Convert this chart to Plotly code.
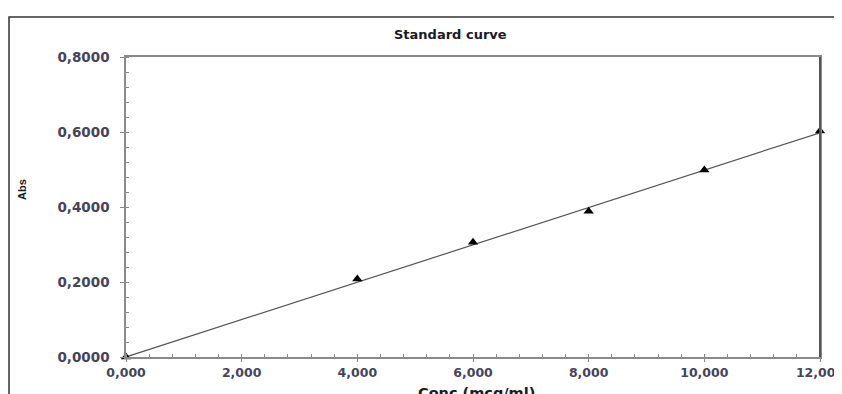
import plotly.graph_objects as go

conc = [0, 4, 6, 8, 10, 12]
absorb = [0.0, 0.208, 0.306, 0.389, 0.499, 0.603]
fit_x = [0, 12]
fit_y = [0.0, 0.598]
x_tickvals = [0, 2, 4, 6, 8, 10, 12]
x_ticktext = ["0,000", "2,000", "4,000", "6,000", "8,000", "10,000", "12,000"]
y_tickvals = [0, 0.2, 0.4, 0.6, 0.8]
y_ticktext = ["0,0000", "0,2000", "0,4000", "0,6000", "0,8000"]

# page offset of the figure (body margin)
OFF = 8
W, H = 842 - OFF, 394 - OFF
L, T = 126 - OFF, 57 - OFF
R = W - (820 - OFF)
B = H - (357 - OFF)
pw, ph = W - L - R, H - T - B

def px(xp):
    return (xp - OFF - L) / pw

def py(yp):
    return (H - B - (yp - OFF)) / ph

FONT = "DejaVu Sans, Verdana, sans-serif"

fig = go.Figure()
fig.add_trace(go.Scatter(x=fit_x, y=fit_y, mode="lines",
                         line=dict(color="#555555", width=1.2),
                         hoverinfo="skip", showlegend=False))
fig.add_trace(go.Scatter(x=conc, y=absorb, mode="markers",
                         marker=dict(symbol="triangle-up", size=9, color="black"),
                         showlegend=False, cliponaxis=False))

fig.update_xaxes(range=[0, 12], tickvals=x_tickvals,
                 ticktext=["<b>%s</b>" % t for t in x_ticktext],
                 ticklabeloverflow="allow",
                 showgrid=False, zeroline=False, showline=True, mirror=True,
                 linecolor="#8a8a8a", linewidth=1.5,
                 ticks="outside", ticklen=3, tickcolor="#8a8a8a",
                 minor=dict(dtick=0.4, ticks="inside", ticklen=3, tickcolor="#8a8a8a", showgrid=False),
                 tickfont=dict(family=FONT, size=12.5, color="#45455a"))
fig.update_yaxes(range=[0, 0.8], tickvals=y_tickvals,
                 ticktext=["<b>%s</b>" % t for t in y_ticktext],
                 showgrid=False, zeroline=False, showline=True, mirror=True,
                 linecolor="#8a8a8a", linewidth=1.5,
                 ticks="outside", ticklen=4, tickcolor="#8a8a8a",
                 ticklabelstandoff=8,
                 minor=dict(dtick=0.04, ticks="inside", ticklen=3, tickcolor="#8a8a8a", showgrid=False),
                 tickfont=dict(family=FONT, size=13.5, color="#45455a"))

shapes = [
    # outer frame
    dict(type="rect", xref="paper", yref="paper",
         x0=px(9), x1=px(842 + 20), y0=py(394 + 20), y1=py(17),
         line=dict(color="#333333", width=1.5), fillcolor="rgba(0,0,0,0)", layer="below"),
    # darker right border of plot area
    dict(type="line", xref="paper", yref="paper", x0=1, x1=1, y0=0, y1=1,
         line=dict(color="#555555", width=2)),
]

annotations = [
    dict(text="<b>Standard curve</b>", xref="paper", yref="paper",
         x=px(450), y=py(34), showarrow=False, xanchor="center", yanchor="middle",
         font=dict(family=FONT, size=13, color="#1a1a2a")),
    dict(text="<b>Abs</b>", xref="paper", yref="paper", textangle=-90,
         x=px(22), y=py(190), showarrow=False, xanchor="center", yanchor="middle",
         font=dict(family="Liberation Sans Narrow, Liberation Sans, Arial, sans-serif", size=11, color="#1a1a2a")),
    dict(text="<b>Conc (mcg/ml)</b>", xref="paper", yref="paper",
         x=px(476), y=py(383), showarrow=False, xanchor="center", yanchor="top",
         font=dict(family=FONT, size=14.5, color="#1a1a2a")),
]

fig.update_layout(width=W, height=H, margin=dict(l=L, r=R, t=T, b=B, autoexpand=False),
                  plot_bgcolor="white", paper_bgcolor="white",
                  shapes=shapes, annotations=annotations, showlegend=False)

fig.write_html("out.html")
